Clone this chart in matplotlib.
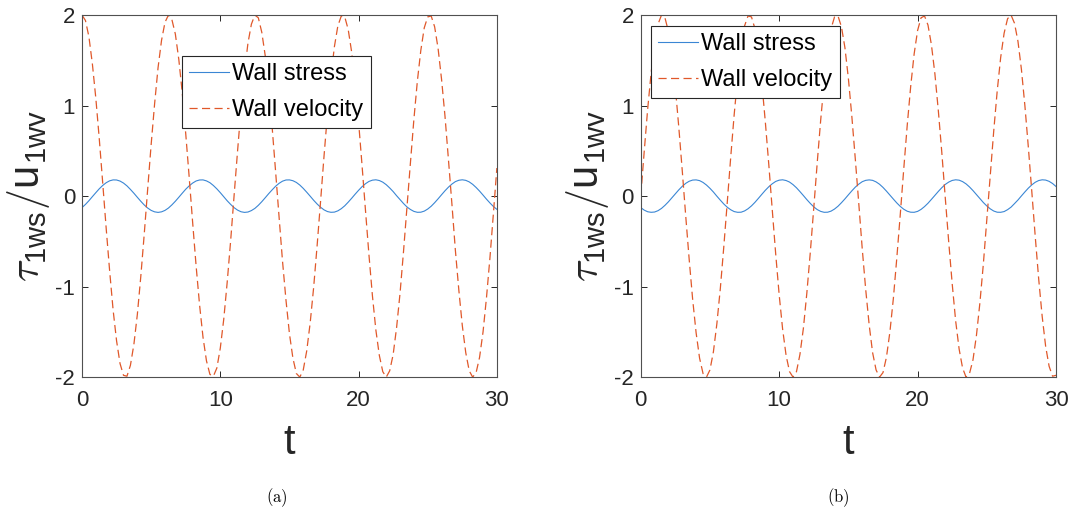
import numpy as np
import matplotlib
matplotlib.use("Agg")
import matplotlib.pyplot as plt

plt.rcParams['font.family'] = ['Liberation Sans', 'DejaVu Sans']
plt.rcParams['mathtext.fontset'] = 'cm'

# time grid, step 0.25
t = np.linspace(0, 30, 121)

# (a) wall velocity
vel_a = [2.00, 1.94, 1.76, 1.46, 1.08, 0.63, 0.14, -0.36, -0.83, -1.26, -1.60, -1.85, -1.98,
         -1.99, -1.87, -1.64, -1.31, -0.89, -0.42, 0.08, 0.57, 1.02, 1.42, 1.72, 1.92, 2.00,
         1.95, 1.79, 1.51, 1.14, 0.69, 0.21, -0.29, -0.77, -1.20, -1.56, -1.82, -1.97, -1.99,
         -1.90, -1.68, -1.36, -0.95, -0.49, 0.01, 0.50, 0.97, 1.37, 1.69, 1.90, 2.00,
         1.97, 1.81, 1.55, 1.19, 0.76, 0.27, -0.23, -0.72, -1.15, -1.52, -1.79, -1.96, -2.00,
         -1.92, -1.71, -1.40, -1.01, -0.55, -0.06, 0.44, 0.91, 1.32, 1.65, 1.88, 1.99,
         1.98, 1.84, 1.59, 1.24, 0.82, 0.34, -0.16, -0.65, -1.10, -1.48, -1.76, -1.94, -2.00,
         -1.93, -1.75, -1.45, -1.07, -0.61, -0.12, 0.37, 0.85, 1.27, 1.61, 1.86, 1.98,
         1.99, 1.87, 1.63, 1.29, 0.88, 0.40, -0.09, -0.60, -1.04, -1.43, -1.73, -1.93, -2.00,
         -1.95, -1.78, -1.50, -1.12, -0.68, -0.19, 0.31]

# (b) wall velocity
vel_b = [0.00, 0.49, 0.96, 1.36, 1.68, 1.90, 2.00, 1.97, 1.82, 1.56, 1.20, 0.76, 0.28,
         -0.22, -0.70, -1.14, -1.51, -1.79, -1.96, -2.00, -1.92, -1.72, -1.41, -1.02, -0.56, -0.07,
         0.43, 0.90, 1.31, 1.65, 1.88, 1.99, 1.98, 1.85, 1.60, 1.25, 0.82, 0.35, -0.15,
         -0.64, -1.09, -1.47, -1.76, -1.94, -2.00, -1.94, -1.75, -1.46, -1.07, -0.62, -0.13,
         0.37, 0.84, 1.26, 1.61, 1.85, 1.98, 1.99, 1.87, 1.64, 1.30, 0.88, 0.41, -0.08,
         -0.58, -1.03, -1.42, -1.73, -1.92, -2.00, -1.95, -1.78, -1.50, -1.13, -0.68, -0.20,
         0.30, 0.78, 1.21, 1.57, 1.83, 1.97, 1.99, 1.89, 1.67, 1.35, 0.94, 0.48, -0.02,
         -0.51, -0.97, -1.38, -1.69, -1.90, -2.00, -1.96, -1.81, -1.54, -1.18, -0.75, -0.26,
         0.23, 0.72, 1.16, 1.53, 1.80, 1.96, 2.00, 1.91, 1.71, 1.40, 1.00, 0.54, 0.05,
         -0.45, -0.92, -1.33, -1.66, -1.88, -1.99, -1.98]

# (a) wall stress
str_a = [-0.127, -0.092, -0.051, -0.006, 0.038, 0.081, 0.118, 0.148, 0.169, 0.179, 0.178,
         0.166, 0.144, 0.113, 0.074, 0.032, -0.013, -0.057, -0.098, -0.132, -0.158, -0.174,
         -0.180, -0.174, -0.158, -0.132, -0.097, -0.057, -0.013, 0.032, 0.076, 0.113, 0.144,
         0.167, 0.178, 0.179, 0.168, 0.148, 0.117, 0.080, 0.038, -0.007, -0.052, -0.092,
         -0.128, -0.155, -0.173, -0.180, -0.176, -0.160, -0.136, -0.102, -0.062, -0.018,
         0.027, 0.069, 0.109, 0.141, 0.165, 0.178, 0.179, 0.170, 0.151, 0.122, 0.085, 0.043,
         -0.001, -0.046, -0.087, -0.123, -0.152, -0.171, -0.179, -0.177, -0.163, -0.139,
         -0.107, -0.067, -0.024, 0.021, 0.064, 0.104, 0.137, 0.162, 0.176, 0.180, 0.172,
         0.154, 0.126, 0.090, 0.050, 0.004, -0.039, -0.082, -0.120, -0.148, -0.169, -0.179,
         -0.178, -0.166, -0.143, -0.112, -0.073, -0.030, 0.015, 0.059, 0.099, 0.133, 0.160,
         0.175, 0.180, 0.174, 0.157, 0.130, 0.095, 0.055, 0.011, -0.034, -0.076, -0.115, -0.146]

# (b) wall stress
str_b = [-0.127, -0.155, -0.173, -0.179, -0.176, -0.161, -0.136, -0.102, -0.063, -0.019, 0.025,
         0.069, 0.108, 0.141, 0.164, 0.177, 0.179, 0.171, 0.151, 0.122, 0.086, 0.045,
         -0.001, -0.045, -0.087, -0.123, -0.151, -0.171, -0.179, -0.178, -0.164, -0.140,
         -0.108, -0.069, -0.025, 0.020, 0.064, 0.103, 0.136, 0.162, 0.176, 0.180, 0.172,
         0.155, 0.127, 0.092, 0.050, 0.006, -0.039, -0.081, -0.119, -0.149, -0.169, -0.179,
         -0.178, -0.166, -0.143, -0.112, -0.073, -0.031, 0.014, 0.058, 0.099, 0.132, 0.159,
         0.174, 0.179, 0.174, 0.157, 0.131, 0.096, 0.055, 0.011, -0.033, -0.076, -0.114,
         -0.145, -0.167, -0.178, -0.179, -0.169, -0.147, -0.116, -0.079, -0.036, 0.008,
         0.052, 0.093, 0.129, 0.155, 0.173, 0.180, 0.176, 0.160, 0.135, 0.101, 0.061, 0.017,
         -0.027, -0.071, -0.109, -0.141, -0.165, -0.178, -0.179, -0.171, -0.150, -0.122,
         -0.083, -0.043, 0.002, 0.046, 0.088, 0.124, 0.153, 0.172, 0.180, 0.177, 0.163, 0.139, 0.106]

xticks = [0, 10, 20, 30]
yticks = [-2, -1, 0, 1, 2]
captions = ['(a)', '(b)']

fig = plt.figure(figsize=(10.72, 5.11), dpi=100)
ax1 = fig.add_axes([0.0765, 0.262, 0.387, 0.7085])
ax2 = fig.add_axes([0.5977, 0.262, 0.3874, 0.7085])

panels = [(ax1, str_a, vel_a, (0.24, 0.887), 0.258), (ax2, str_b, vel_b, (0.024, 0.97), 0.782)]
for i, (ax, s, v, loc, cx) in enumerate(panels):
    ax.plot(t, s, color='#3a86d4', lw=0.8, label='Wall stress')
    ax.plot(t, v, color='#e0582a', lw=0.9, dashes=(6.5, 3.5), label='Wall velocity')
    ax.set_xlim(0, 30)
    ax.set_ylim(-2, 2)
    ax.set_xticks(xticks)
    ax.set_yticks(yticks)
    ax.set_yticklabels([str(y) for y in yticks])
    ax.tick_params(direction='in', length=4, width=0.7, colors='#262626', labelsize=16,
                   top=True, right=True, pad=5)
    ax.tick_params(axis='x', pad=9)
    for sp in ax.spines.values():
        sp.set_color('#505050')
        sp.set_linewidth(0.8)
    ax.set_xlabel('t', fontsize=30, color='#262626', labelpad=9)
    ax.set_ylabel(r'$\tau_{\mathregular{1ws}}/\mathregular{u}_{\mathregular{1wv}}$',
                  fontsize=30, color='#262626', labelpad=2)
    leg = ax.legend(loc='upper left', bbox_to_anchor=loc, fontsize=17, frameon=True,
                    fancybox=False, framealpha=1, edgecolor='#262626', handlelength=1.7,
                    borderpad=0.3, labelspacing=0.6, handletextpad=0.15, borderaxespad=0)
    leg.get_frame().set_linewidth(0.8)
    fig.text(cx, 0.027, r'$\mathrm{' + captions[i] + '}$', ha='center', va='center',
             fontsize=12)

fig.savefig('out.png', dpi=100)
